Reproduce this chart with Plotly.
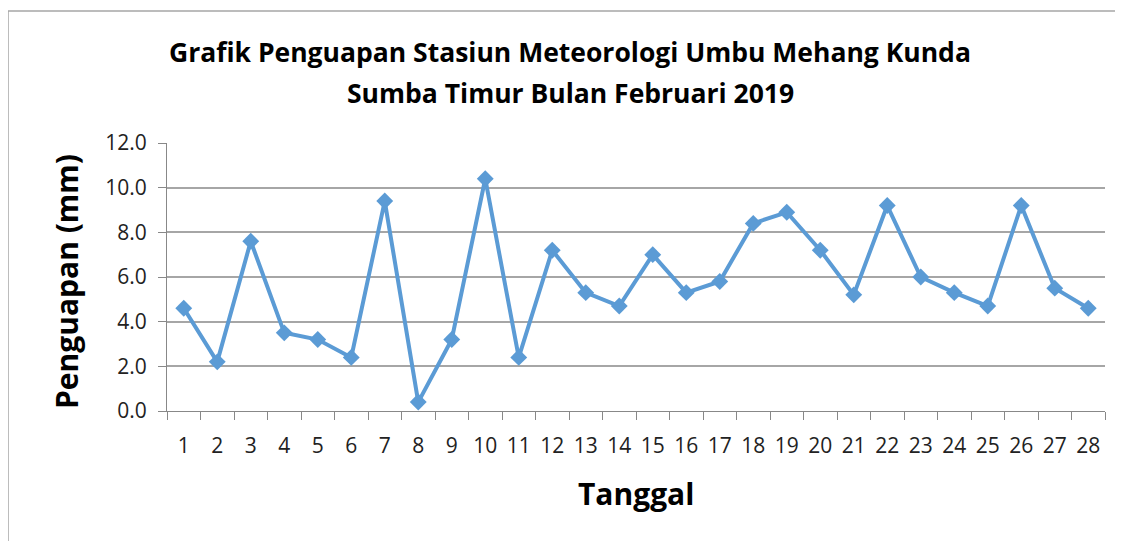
import plotly.graph_objects as go

# Daily evaporation, February 2019
tanggal = [str(d) for d in range(1, 29)]
penguapan = [4.6, 2.2, 7.6, 3.5, 3.2, 2.4, 9.4, 0.4, 3.2, 10.4,
             2.4, 7.2, 5.3, 4.7, 7.0, 5.3, 5.8, 8.4, 8.9, 7.2,
             5.2, 9.2, 6.0, 5.3, 4.7, 9.2, 5.5, 4.6]
y_ticks = [0, 2, 4, 6, 8, 10, 12]
judul = ["Grafik Penguapan Stasiun Meteorologi Umbu Mehang Kunda",
         "Sumba Timur Bulan Februari 2019"]

# the page body adds an 8px offset, so work in screen pixels and shift
OFF = 8
W, H = 1123, 541
L, R, T, B = 167 - OFF, 1123 - 1105 + OFF, 143 - OFF, 541 - 411 + OFF
pw, ph = W - L - R, H - T - B

def px(x):
    return (x - OFF - L) / pw

def py(y):
    return (H - B - (y - OFF)) / ph

fig = go.Figure()
fig.add_trace(go.Scatter(x=tanggal, y=penguapan,
                         mode="lines+markers",
                         line=dict(color="#5b9bd5", width=4),
                         marker=dict(symbol="diamond", size=13, color="#5b9bd5"),
                         showlegend=False))

notes = [
    dict(text="<b>%s</b>" % judul[0], x=px(570), y=py(52), font=dict(size=26.5, color="black")),
    dict(text="<b>%s</b>" % judul[1], x=px(570), y=py(93), font=dict(size=26.5, color="black")),
    dict(text="<b>Tanggal</b>", x=px(636), y=py(493), font=dict(size=30, color="black")),
    dict(text="<b>Penguapan (mm)</b>", x=px(66), y=py(282), textangle=-90,
         font=dict(size=30, color="black")),
]
for n in notes:
    n.update(xref="paper", yref="paper", showarrow=False,
             xanchor="center", yanchor="middle")

fig.update_layout(
    width=W, height=H,
    margin=dict(l=L, r=R, t=T, b=B, autoexpand=False),
    paper_bgcolor="white", plot_bgcolor="white",
    font=dict(family="Open Sans", color="#222222"),
    annotations=notes,
    # outer chart frame; bottom edge runs off the picture
    shapes=[dict(type="rect", xref="paper", yref="paper",
                 x0=px(8), x1=px(1119), y0=py(11), y1=py(560),
                 line=dict(color="#a6a6a6", width=1.5), layer="below")],
)
fig.update_xaxes(type="category", range=[-0.5, 27.5], tickson="boundaries",
                 ticks="outside", ticklen=8, tickcolor="#888888", tickangle=0,
                 showline=True, linecolor="#888888", linewidth=1, showgrid=False,
                 automargin=False, ticklabelstandoff=16,
                 tickfont=dict(size=21, color="#222222"))
fig.update_yaxes(range=[0, 12], tickvals=y_ticks, tickformat=".1f",
                 ticks="outside", ticklen=8, tickcolor="#888888",
                 showline=True, linecolor="#888888", linewidth=1,
                 showgrid=True, gridcolor="#a6a6a6", gridwidth=1.5,
                 zeroline=False, automargin=False, ticklabelstandoff=7,
                 tickfont=dict(size=21, color="#222222"))

fig.write_html("out.html")
